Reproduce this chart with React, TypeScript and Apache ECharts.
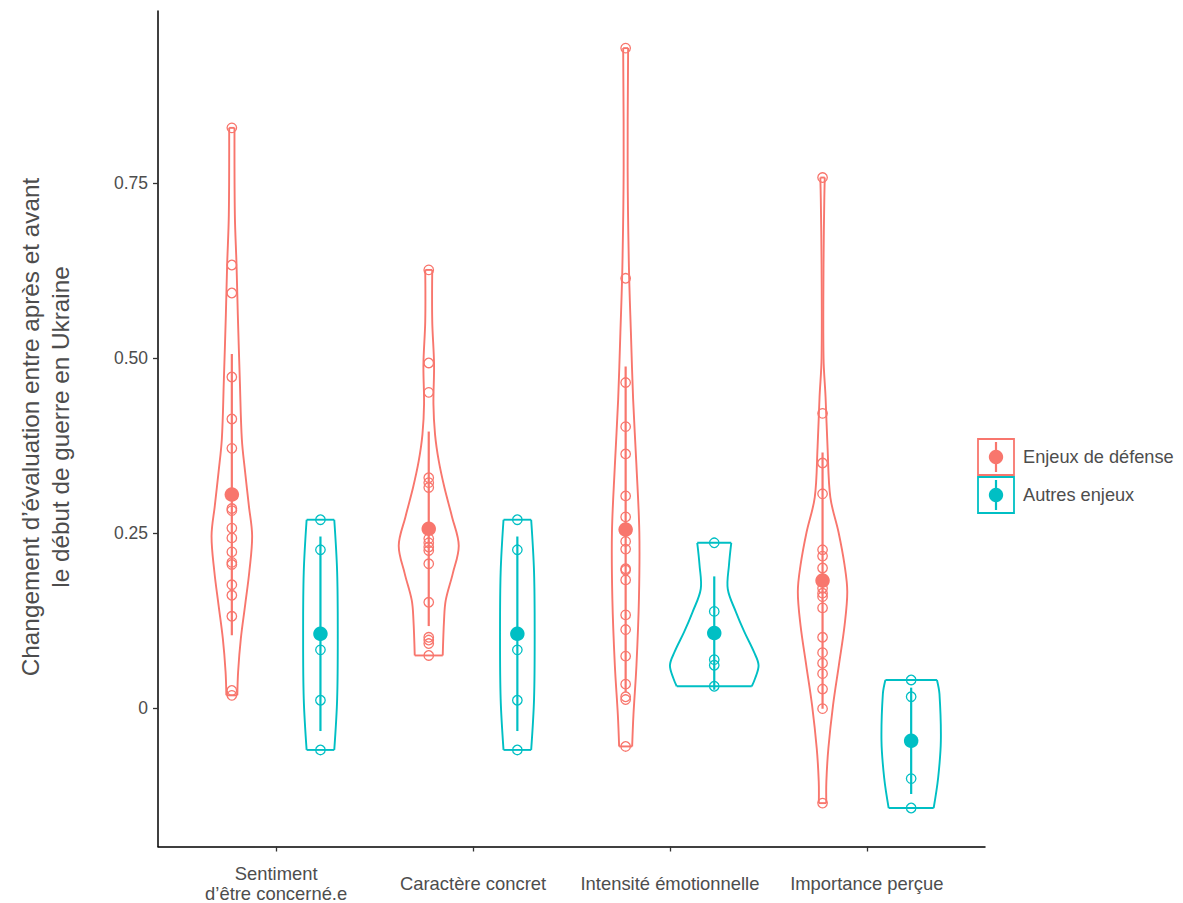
import React, { useEffect, useRef } from "react";
import * as echarts from "echarts";

const categories = [
  "Sentiment\nd’être concerné.e",
  "Caractère concret",
  "Intensité émotionnelle",
  "Importance perçue",
];
const groupNames = ["Enjeux de défense", "Autres enjeux"];
const groupColors = ["#F8766D", "#00BFC4"];
const yTicks = [0, 0.25, 0.5, 0.75];
const yTickLabels = ["0", "0.25", "0.50", "0.75"];
const yTitle = "Changement d’évaluation entre après et avant\nle début de guerre en Ukraine";

// individual observations
const defensePoints = [
  [0.829, 0.633, 0.593, 0.473, 0.413, 0.371, 0.285, 0.282, 0.257, 0.243, 0.223, 0.208, 0.205, 0.176, 0.161, 0.131, 0.025, 0.018],
  [0.626, 0.493, 0.451, 0.329, 0.322, 0.315, 0.242, 0.236, 0.23, 0.225, 0.206, 0.151, 0.101, 0.097, 0.092, 0.075],
  [0.943, 0.614, 0.465, 0.402, 0.363, 0.303, 0.273, 0.238, 0.227, 0.199, 0.197, 0.183, 0.133, 0.112, 0.074, 0.034, 0.016, 0.012, -0.055],
  [0.758, 0.421, 0.35, 0.306, 0.226, 0.217, 0.2, 0.171, 0.164, 0.159, 0.143, 0.101, 0.079, 0.064, 0.049, 0.027, -0.001, -0.136],
];
const otherPoints = [
  [0.269, 0.226, 0.083, 0.011, -0.06],
  [0.269, 0.226, 0.083, 0.011, -0.06],
  [0.236, 0.138, 0.069, 0.061, 0.031],
  [0.04, 0.016, -0.101, -0.143],
];

// mean and standard deviation
const defenseMeans = [0.305, 0.256, 0.255, 0.182];
const defenseSD = [0.201, 0.139, 0.233, 0.183];
const otherMeans = [0.106, 0.106, 0.107, -0.047];
const otherSD = [0.139, 0.139, 0.081, 0.076];

// violin outlines: [value, relative density width (1 = widest violin)]
const defenseViolins = [
  [[0.829, 0.06], [0.705, 0.068], [0.633, 0.106], [0.562, 0.135], [0.467, 0.181], [0.384, 0.226], [0.337, 0.3], [0.289, 0.384], [0.246, 0.458], [0.195, 0.395], [0.147, 0.3], [0.099, 0.203], [0.052, 0.142], [0.018, 0.124]],
  [[0.626, 0.079], [0.553, 0.079], [0.491, 0.12], [0.434, 0.106], [0.391, 0.142], [0.353, 0.226], [0.315, 0.354], [0.273, 0.526], [0.232, 0.677], [0.192, 0.542], [0.154, 0.384], [0.125, 0.345], [0.075, 0.316]],
  [[0.943, 0.056], [0.772, 0.045], [0.63, 0.074], [0.534, 0.12], [0.441, 0.169], [0.346, 0.244], [0.251, 0.309], [0.156, 0.3], [0.061, 0.244], [-0.01, 0.176], [-0.055, 0.147]],
  [[0.758, 0.05], [0.729, 0.04], [0.634, 0.022], [0.5, 0.022], [0.444, 0.068], [0.372, 0.113], [0.301, 0.176], [0.251, 0.361], [0.204, 0.497], [0.166, 0.558], [0.118, 0.497], [0.061, 0.368], [0.004, 0.237], [-0.058, 0.131], [-0.105, 0.086], [-0.136, 0.084]],
];
const otherViolins = [
  [[0.269, 0.312], [0.194, 0.377], [0.106, 0.391], [0.013, 0.377], [-0.06, 0.312]],
  [[0.269, 0.312], [0.194, 0.377], [0.106, 0.391], [0.013, 0.377], [-0.06, 0.312]],
  [[0.236, 0.384], [0.204, 0.332], [0.17, 0.305], [0.137, 0.49], [0.109, 0.677], [0.08, 0.896], [0.061, 1.0], [0.042, 0.921], [0.031, 0.847]],
  [[0.04, 0.582], [0.02, 0.639], [-0.047, 0.67], [-0.1, 0.609], [-0.143, 0.508]],
];

const DODGE = 0.225;
const MAXHALF = 0.225;
const FONT = "'Liberation Sans', Arial, sans-serif";

const groupsData = [
  { points: defensePoints, means: defenseMeans, sd: defenseSD, violins: defenseViolins, offset: -DODGE },
  { points: otherPoints, means: otherMeans, sd: otherSD, violins: otherViolins, offset: DODGE },
];

export default function App() {
  const ref = useRef<HTMLDivElement>(null);
  useEffect(() => {
    if (!ref.current) return;
    const chart = echarts.init(ref.current, null, { renderer: "svg" });
    const series: any[] = [];
    groupsData.forEach((g, gi) => {
      const color = groupColors[gi];
      // violins
      series.push({
        type: "custom",
        name: groupNames[gi] + " violin",
        z: 2,
        data: categories.map((_, ci) => [ci + 1 + g.offset, ci]),
        renderItem: (params: any, api: any) => {
          const ci = api.value(1);
          const xc = api.value(0);
          const prof = g.violins[ci];
          const left = prof.map((p: number[]) => api.coord([xc - p[1] * MAXHALF, p[0]]));
          const right = prof.map((p: number[]) => api.coord([xc + p[1] * MAXHALF, p[0]]));
          const st = { stroke: color, lineWidth: 1.9, fill: "none" };
          return {
            type: "group",
            children: [
              { type: "polyline", shape: { points: left, smooth: 0.35 }, style: st },
              { type: "polyline", shape: { points: right, smooth: 0.35 }, style: st },
              { type: "line", shape: { x1: left[0][0], y1: left[0][1], x2: right[0][0], y2: right[0][1] }, style: st },
              {
                type: "line",
                shape: { x1: left[left.length - 1][0], y1: left[left.length - 1][1], x2: right[right.length - 1][0], y2: right[right.length - 1][1] },
                style: st,
              },
            ],
          };
        },
      });
      // points
      const pts: number[][] = [];
      g.points.forEach((arr, ci) => arr.forEach((v) => pts.push([ci + 1 + g.offset, v])));
      series.push({
        type: "scatter",
        name: groupNames[gi] + " points",
        z: 3,
        symbol: "circle",
        symbolSize: 9.5,
        itemStyle: { color: "rgba(0,0,0,0)", borderColor: color, borderWidth: 1.3, opacity: 1 },
        data: pts,
      });
      // error bars
      series.push({
        type: "custom",
        name: groupNames[gi] + " sd",
        z: 4,
        data: categories.map((_, ci) => [ci + 1 + g.offset, g.means[ci] - g.sd[ci], g.means[ci] + g.sd[ci]]),
        renderItem: (params: any, api: any) => {
          const a = api.coord([api.value(0), api.value(1)]);
          const b = api.coord([api.value(0), api.value(2)]);
          return { type: "line", shape: { x1: a[0], y1: a[1], x2: b[0], y2: b[1] }, style: { stroke: color, lineWidth: 2.2 } };
        },
      });
      // means
      series.push({
        type: "scatter",
        name: groupNames[gi],
        z: 5,
        symbol: "circle",
        symbolSize: 14.5,
        itemStyle: { color, opacity: 1 },
        data: categories.map((_, ci) => [ci + 1 + g.offset, g.means[ci]]),
      });
    });

    const graphics: any[] = [];
    groupNames.forEach((nm, gi) => {
      const top = 439 + gi * 38;
      graphics.push(
        { type: "rect", shape: { x: 978, y: top, width: 36, height: 36 }, style: { fill: "#fff", stroke: groupColors[gi], lineWidth: 1.8 } },
        { type: "line", shape: { x1: 996, y1: top + 3, x2: 996, y2: top + 33 }, style: { stroke: groupColors[gi], lineWidth: 2.2 } },
        { type: "circle", shape: { cx: 996, cy: top + 18, r: 7.2 }, style: { fill: groupColors[gi] } },
        {
          type: "text",
          x: 1023,
          y: top + 18,
          style: { text: nm, fill: "#4D4D4D", font: "18.2px " + FONT, textVerticalAlign: "middle", textAlign: "left" },
        }
      );
    });
    graphics.push({
      type: "text",
      x: 45,
      y: 427,
      rotation: Math.PI / 2,
      style: {
        text: yTitle,
        fill: "#4D4D4D",
        font: "24.3px " + FONT,
        lineHeight: 30,
        textAlign: "center",
        textVerticalAlign: "middle",
      },
    });

    chart.setOption({
      animation: false,
      backgroundColor: "#ffffff",
      textStyle: { fontFamily: FONT },
      grid: { left: 158, right: 198, top: 11, bottom: 54.5, containLabel: false },
      xAxis: {
        type: "value",
        min: 0.4,
        max: 4.6,
        splitLine: { show: false },
        axisLine: { show: true, onZero: false, lineStyle: { color: "#000", width: 1.5 } },
        axisTick: { show: true, customValues: [1, 2, 3, 4], length: 5, lineStyle: { color: "#333", width: 1.3 } },
        axisLabel: {
          show: true,
          customValues: [1, 2, 3, 4],
          formatter: (v: number) => categories[Math.round(v) - 1] ?? "",
          color: "#4D4D4D",
          fontSize: 18.4,
          lineHeight: 20,
          verticalAlign: "middle",
          margin: 36.5,
          fontFamily: FONT,
        },
      },
      yAxis: {
        type: "value",
        min: -0.198,
        max: 0.996,
        splitLine: { show: false },
        axisLine: { show: true, onZero: false, lineStyle: { color: "#000", width: 1.5 } },
        axisTick: { show: true, customValues: yTicks, length: 5, lineStyle: { color: "#333", width: 1.3 } },
        axisLabel: {
          show: true,
          customValues: yTicks,
          formatter: (v: number) => {
            const i = yTicks.findIndex((t) => Math.abs(t - v) < 1e-6);
            return i >= 0 ? yTickLabels[i] : "";
          },
          color: "#4D4D4D",
          fontSize: 17.5,
          margin: 10,
          fontFamily: FONT,
        },
      },
      graphic: graphics,
      series,
    });
    return () => chart.dispose();
  }, []);
  return <div ref={ref} style={{ position: "absolute", left: 0, top: 0, width: 1183, height: 903 }} />;
}
